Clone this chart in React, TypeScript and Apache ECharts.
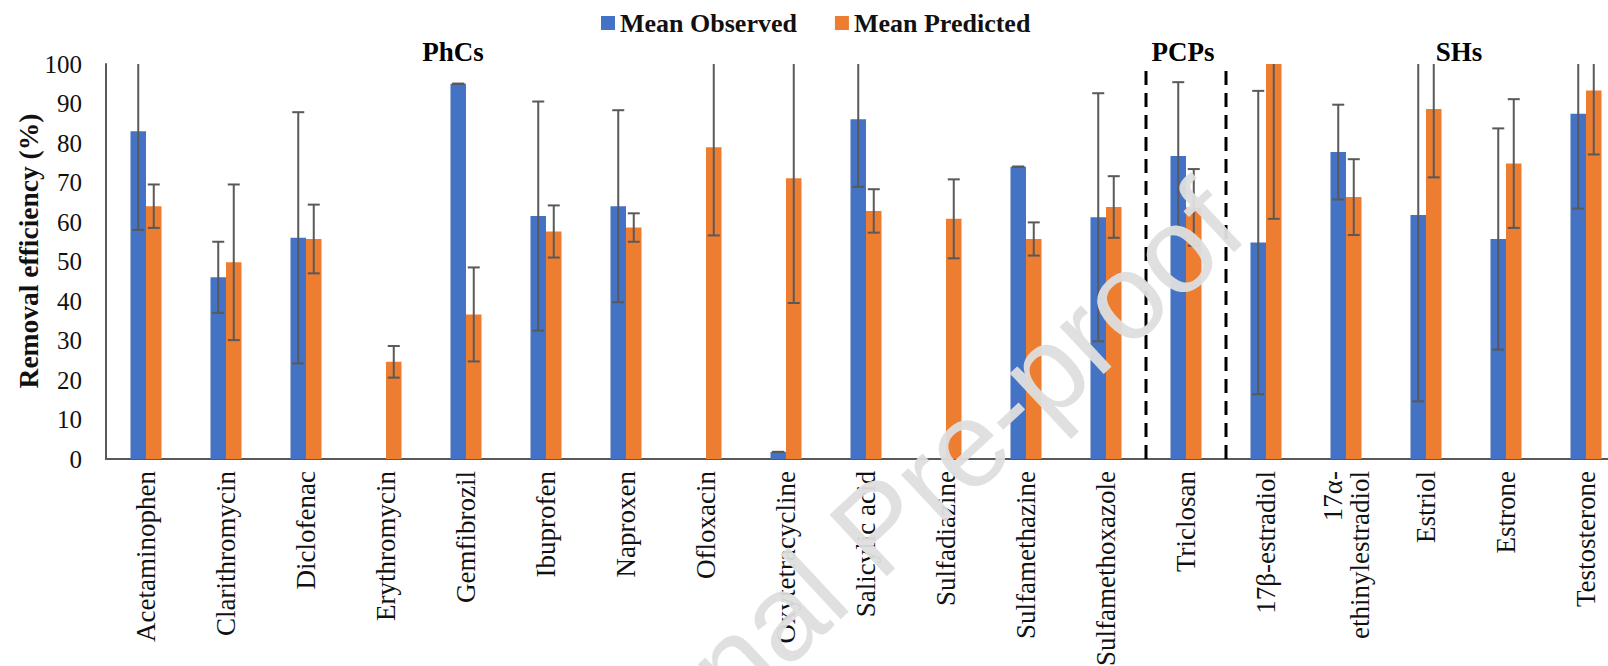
import React, { useEffect, useRef } from "react";
import * as echarts from "echarts";

const categories = [
  "Acetaminophen",
  "Clarithromycin",
  "Diclofenac",
  "Erythromycin",
  "Gemfibrozil",
  "Ibuprofen",
  "Naproxen",
  "Ofloxacin",
  "Oxytetracycline",
  "Salicylic acid",
  "Sulfadiazine",
  "Sulfamethazine",
  "Sulfamethoxazole",
  "Triclosan",
  "17β-estradiol",
  "17α-\nethinylestradiol",
  "Estriol",
  "Estrone",
  "Testosterone",
];

const observed = [83, 46, 56, null, 95, 61.5, 64, null, 1.8, 86, null, 74, 61.2, 76.7, 54.8, 77.7, 61.8, 55.7, 87.4];
const observedErr = [25, 9, 31.8, null, 0, 29, 24.3, null, 0, 17.1, null, 0, 31.4, 18.7, 38.4, 12, 47.2, 28, 24];
const predicted = [64, 49.8, 55.7, 24.6, 36.6, 57.6, 58.6, 78.9, 71.1, 62.8, 60.8, 55.7, 63.8, 63.7, 100, 66.3, 88.6, 74.8, 93.3];
const predictedErr = [5.5, 19.7, 8.7, 4, 11.9, 6.6, 3.6, 22.3, 31.6, 5.5, 10, 4.2, 7.8, 9.7, 39.2, 9.6, 17.3, 16.3, 16.2];

const seriesNames = ["Mean Observed", "Mean Predicted"];
const groupLabels = ["PhCs", "PCPs", "SHs"];
const separators = [13, 14];
const yTicks = { min: 0, max: 100, interval: 10 };
const yTitle = "Removal efficiency (%)";

const BLUE = "#4472C4";
const ORANGE = "#ED7D31";
const SERIF = "'Liberation Serif', 'Times New Roman', serif";
const BAR_W = 15.5;

function errData(vals: (number | null)[], errs: (number | null)[]) {
  const out: number[][] = [];
  vals.forEach((v, i) => {
    const e = errs[i];
    if (v == null || e == null) return;
    out.push([i, v - e, v + e]);
  });
  return out;
}

function makeErrSeries(vals: (number | null)[], errs: (number | null)[], side: number) {
  return {
    type: "custom",
    xAxisIndex: 0,
    yAxisIndex: 0,
    z: 5,
    clip: false,
    silent: true,
    encode: { x: 0, y: [1, 2] },
    data: errData(vals, errs),
    renderItem: (params: any, api: any) => {
      const idx = api.value(0);
      const lo = Math.max(api.value(1), yTicks.min);
      const hi = api.value(2);
      const hiC = Math.min(hi, yTicks.max);
      const pLo = api.coord([idx, lo]);
      const pHi = api.coord([idx, hiC]);
      const x = pLo[0] + (side * BAR_W) / 2;
      const style = { stroke: "#595959", lineWidth: 2 };
      const cap = 6;
      const children: any[] = [];
      if (Math.abs(pLo[1] - pHi[1]) > 0.5) {
        children.push({ type: "line", shape: { x1: x, y1: pLo[1], x2: x, y2: pHi[1] }, style });
      }
      children.push({ type: "line", shape: { x1: x - cap, y1: pLo[1], x2: x + cap, y2: pLo[1] }, style });
      if (hi <= yTicks.max) {
        children.push({ type: "line", shape: { x1: x - cap, y1: pHi[1], x2: x + cap, y2: pHi[1] }, style });
      }
      return { type: "group", children };
    },
  };
}

export default function App() {
  const ref = useRef<HTMLDivElement>(null);

  useEffect(() => {
    if (!ref.current) return;
    const chart = echarts.init(ref.current, null, { renderer: "svg" });
    const gridLeft = 106;
    const gridTop = 64;
    const gridHeight = 395;
    const gridWidth = 80 * categories.length;

    const groupText = (text: string, x: number) => ({
      type: "text",
      x,
      y: 52,
      style: { text, font: `bold 27px ${SERIF}`, fill: "#000", align: "center", verticalAlign: "middle" },
    });

    const option: any = {
      animation: false,
      backgroundColor: "#ffffff",
      legend: {
        data: seriesNames,
        left: 596,
        top: 5,
        itemWidth: 14,
        itemHeight: 14,
        itemGap: 38,
        icon: "rect",
        textStyle: { fontFamily: SERIF, fontWeight: "bold", fontSize: 26, color: "#111" },
      },
      grid: {
        left: gridLeft,
        top: gridTop,
        height: gridHeight,
        width: gridWidth,
        containLabel: false,
        outerBoundsMode: "none",
      },
      xAxis: [
        {
          type: "category",
          data: categories,
          axisLine: { show: true, lineStyle: { color: "#595959", width: 2 } },
          axisTick: { show: false },
          axisLabel: {
            interval: 0,
            rotate: 90,
            margin: 12,
            fontFamily: SERIF,
            fontSize: 27,
            color: "#111",
            lineHeight: 27,
          },
          splitLine: { show: false },
        },
        {
          type: "value",
          min: 0,
          max: categories.length,
          show: false,
        },
      ],
      yAxis: {
        type: "value",
        min: yTicks.min,
        max: yTicks.max,
        interval: yTicks.interval,
        axisLine: { show: true, lineStyle: { color: "#595959", width: 2 } },
        axisTick: { show: false },
        axisLabel: { fontFamily: SERIF, fontSize: 25, color: "#111", margin: 24 },
        splitLine: { show: false },
      },
      series: [
        {
          name: seriesNames[0],
          type: "bar",
          data: observed,
          barWidth: BAR_W,
          barGap: "0%",
          itemStyle: { color: BLUE },
        },
        {
          name: seriesNames[1],
          type: "bar",
          data: predicted,
          barWidth: BAR_W,
          barGap: "0%",
          itemStyle: { color: ORANGE },
        },
        makeErrSeries(observed, observedErr, -1),
        makeErrSeries(predicted, predictedErr, 1),
        ...separators.map((s) => ({
          type: "line",
          xAxisIndex: 1,
          yAxisIndex: 0,
          symbol: "none",
          silent: true,
          z: 6,
          data: [
            [s, yTicks.min],
            [s, yTicks.max],
          ],
          lineStyle: { color: "#000", width: 3, type: [14, 8] },
        })),
      ],
      graphic: [
        groupText(groupLabels[0], 453),
        groupText(groupLabels[1], 1183),
        groupText(groupLabels[2], 1459),
        {
          type: "text",
          x: 28,
          y: 251,
          rotation: Math.PI / 2,
          style: {
            text: yTitle,
            font: `bold 27.5px ${SERIF}`,
            fill: "#111",
            align: "center",
            verticalAlign: "middle",
          },
        },
        {
          type: "text",
          x: 878,
          y: 527,
          rotation: (43 * Math.PI) / 180,
          z: 100,
          silent: true,
          style: {
            text: "Journal Pre-proof",
            font: "122px 'Liberation Sans', Arial, sans-serif",
            fill: "rgba(222,222,222,0.95)",
            align: "center",
            verticalAlign: "middle",
          },
        },
      ],
    };
    chart.setOption(option);
    return () => chart.dispose();
  }, []);

  return (
    <div style={{ position: "absolute", left: 0, top: 0, width: 1608, height: 666, overflow: "hidden", background: "#fff" }}>
      <div ref={ref} style={{ width: 1650, height: 666 }} />
    </div>
  );
}
